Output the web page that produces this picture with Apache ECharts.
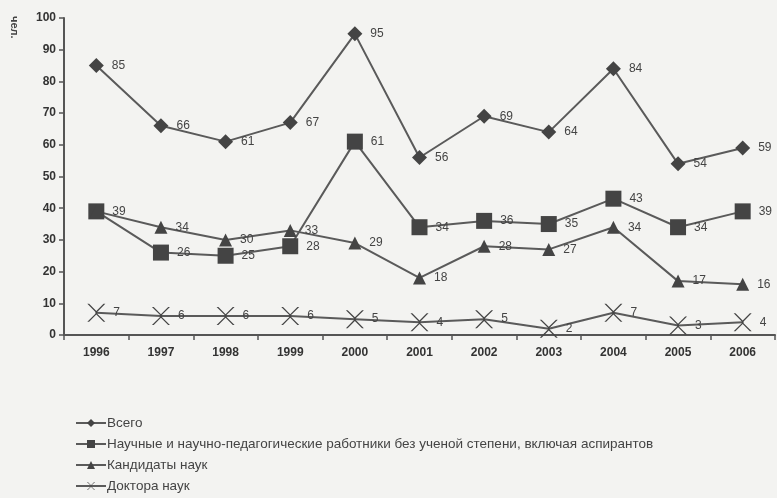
<!DOCTYPE html>
<html><head><meta charset="utf-8">
<script src="https://cdn.jsdelivr.net/npm/echarts@6/dist/echarts.min.js"></script>
<style>html,body{margin:0;padding:0;background:#f3f3f1}#c{width:777px;height:498px}</style>
</head><body><div id="c"></div>
<script>
const years = ['1996','1997','1998','1999','2000','2001','2002','2003','2004','2005','2006'];
const total = [85,66,61,67,95,56,69,64,84,54,59];
const noDegree = [39,26,25,28,61,34,36,35,43,34,39];
const candidates = [39,34,30,33,29,18,28,27,34,17,16];
const doctors = [7,6,6,6,5,4,5,2,7,3,4];
const names = ['Всего','Научные и научно-педагогические работники без ученой степени, включая аспирантов','Кандидаты наук','Доктора наук'];

const lineColor = '#5a5a5a';
const markColor = '#444';
const crossPath = 'path://M0,0 L2,0 L10,8 L18,0 L20,0 L11,9 L11,11 L20,20 L18,20 L10,12 L2,20 L0,20 L9,11 L9,9 Z';

function mk(name, data, symbol, size, showLabelIdx){
  return {
    name, type:'line', data, symbol, symbolSize:size,
    lineStyle:{color:lineColor,width:2},
    itemStyle:{color:markColor},
    label:{show:true,position:'right',distance:8,color:'#444',fontSize:12,fontFamily:'Liberation Sans',
      formatter:p=> (showLabelIdx && !showLabelIdx(p.dataIndex)) ? '' : p.value},
    emphasis:{disabled:true}, animation:false
  };
}
const chart = echarts.init(document.getElementById('c'));
chart.setOption({
  backgroundColor:'#f3f3f1',
  animation:false,
  grid:{left:64,right:2,top:18,bottom:163},
  xAxis:{type:'category',data:years,boundaryGap:true,
    axisLine:{lineStyle:{color:'#555',width:2}},
    axisTick:{show:true,length:5,lineStyle:{color:'#555',width:1.5},interval:0},
    axisLabel:{color:'#333',fontSize:12,fontWeight:'bold',margin:12,fontFamily:'Liberation Sans'}},
  yAxis:{type:'value',min:0,max:100,interval:10,
    axisLine:{show:true,lineStyle:{color:'#555',width:2}},
    axisTick:{show:true,length:5,lineStyle:{color:'#555',width:1.5}},
    splitLine:{show:false},
    axisLabel:{color:'#333',fontSize:12,fontWeight:'bold',margin:8,fontFamily:'Liberation Sans'}},
  legend:{orient:'vertical',left:70,top:411,height:100,itemGap:7,itemWidth:30,itemHeight:10,
    textStyle:{color:'#444',fontSize:13.5,fontFamily:'Liberation Sans',padding:[0,0,0,-4]},
    data:names},
  graphic:[{type:'text',left:9,top:16,rotation:-Math.PI/2,
    style:{text:'чел.',fill:'#444',font:'bold 11px Liberation Sans'}}],
  series:[
    mk(names[0],total,'diamond',15),
    mk(names[1],noDegree,'rect',16),
    mk(names[2],candidates,'triangle',13,i=>i!==0),
    mk(names[3],doctors,crossPath,18)
  ]
});
</script></body></html>
